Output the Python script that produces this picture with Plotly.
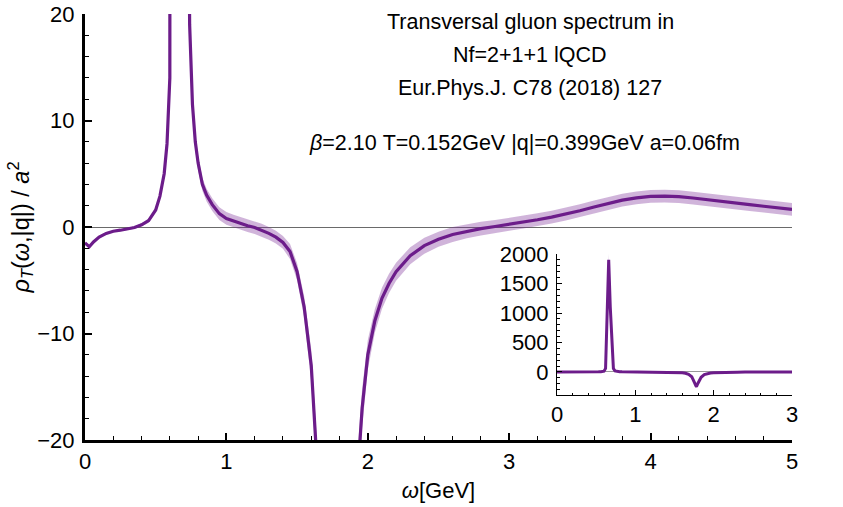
import plotly.graph_objects as go

# ---- data ----
omega = [0.00, 0.03, 0.06, 0.10, 0.15, 0.20, 0.25, 0.30, 0.35, 0.40, 0.45, 0.50, 0.53, 0.56, 0.58,
         0.60, 0.62, 0.64, 0.66, 0.68, 0.70, 0.72, 0.74, 0.76, 0.78, 0.80, 0.83, 0.86, 0.90, 0.95,
         1.00, 1.05, 1.10, 1.15, 1.20, 1.25, 1.30, 1.35, 1.40, 1.45, 1.50, 1.55, 1.60, 1.64, 1.68,
         1.72, 1.76, 1.78, 1.80, 1.84, 1.88, 1.92, 1.96, 2.00, 2.05, 2.10, 2.15, 2.20, 2.30, 2.40,
         2.50, 2.60, 2.70, 2.80, 2.90, 3.00, 3.10, 3.20, 3.30, 3.40, 3.50, 3.60, 3.70, 3.80, 3.90,
         4.00, 4.10, 4.20, 4.30, 4.40, 4.50, 4.60, 4.70, 4.80, 4.90, 5.00]
rho = [-1.5, -1.85, -1.4, -0.95, -0.6, -0.4, -0.3, -0.2, -0.05, 0.2, 0.6, 1.6, 2.9, 5.0, 7.8,
       14.0, 60.0, 1200.0, 1900.0, 1100.0, 550.0, 60.0, 19.0, 11.5, 8.0, 6.0, 4.0, 3.0, 2.1, 1.25,
       0.8, 0.55, 0.35, 0.12, -0.05, -0.3, -0.6, -0.95, -1.45, -2.3, -4.2, -7.5, -13.0, -22.0, -40.0,
       -80.0, -180.0, -250.0, -190.0, -90.0, -45.0, -25.0, -17.0, -12.0, -8.8, -6.7, -5.3, -4.2, -2.7, -1.75,
       -1.15, -0.7, -0.4, -0.15, 0.05, 0.25, 0.45, 0.68, 0.93, 1.22, 1.53, 1.88, 2.22, 2.52, 2.74,
       2.88, 2.9, 2.85, 2.72, 2.55, 2.4, 2.25, 2.1, 1.95, 1.8, 1.65]
err = [0.15, 0.15, 0.12, 0.1, 0.1, 0.1, 0.1, 0.1, 0.12, 0.15, 0.2, 0.2, 0.25, 0.3, 0.5,
       1.0, 5.0, 60.0, 100.0, 80.0, 40.0, 5.0, 1.5, 1.0, 0.8, 0.7, 0.6, 0.6, 0.6, 0.6,
       0.6, 0.6, 0.6, 0.6, 0.6, 0.6, 0.6, 0.6, 0.6, 0.7, 0.8, 1.0, 1.5, 2.0, 4.0,
       8.0, 15.0, 20.0, 15.0, 8.0, 4.0, 2.5, 1.8, 1.4, 1.1, 1.0, 0.9, 0.85, 0.8, 0.75,
       0.7, 0.7, 0.65, 0.65, 0.6, 0.6, 0.6, 0.6, 0.6, 0.6, 0.6, 0.6, 0.6, 0.6, 0.6,
       0.6, 0.6, 0.6, 0.6, 0.6, 0.6, 0.6, 0.6, 0.6, 0.6, 0.6]

main_xticks = [0, 1, 2, 3, 4, 5]
main_yticks = [-20, -10, 0, 10, 20]
main_yticktext = ["−20", "−10", "0", "10", "20"]
inset_xticks = [0, 1, 2, 3]
inset_yticks = [0, 500, 1000, 1500, 2000]

title_lines = ["Transversal gluon spectrum in", "Nf=2+1+1 lQCD", "Eur.Phys.J. C78 (2018) 127"]
param_line = "<i>β</i>=2.10 T=0.152GeV |q|=0.399GeV a=0.06fm"

lower = [r - e for r, e in zip(rho, err)]
upper = [r + e for r, e in zip(rho, err)]

LINE = "rgb(108,28,138)"
BAND = "rgba(120,40,150,0.35)"
FONT = "Liberation Sans"

fig = go.Figure()
for xa, ya, lw in [("x", "y", 3.2), ("x2", "y2", 3.0)]:
    fig.add_trace(go.Scatter(x=omega, y=lower, mode="lines", line=dict(width=0, color=BAND),
                             xaxis=xa, yaxis=ya, showlegend=False, hoverinfo="skip"))
    fig.add_trace(go.Scatter(x=omega, y=upper, mode="lines", line=dict(width=0, color=BAND),
                             fill="tonexty", fillcolor=BAND,
                             xaxis=xa, yaxis=ya, showlegend=False, hoverinfo="skip"))
    fig.add_trace(go.Scatter(x=omega, y=rho, mode="lines", line=dict(width=lw, color=LINE),
                             xaxis=xa, yaxis=ya, showlegend=False))

W, H = 843, 507
# plot area in window pixels (left, right, top, bottom)
PL, PR, PT, PB = 85, 792, 14, 440
L, R, T, B = PL, W - PR, PT, H - PB
pw, ph = PR - PL, PB - PT

def px(x):
    return (x - PL) / pw

def py(y):
    return (PB - y) / ph

tickfont = dict(family=FONT, size=22, color="black")

fig.update_layout(
    width=W, height=H,
    margin=dict(l=L, r=R, t=T, b=B, autoexpand=False),
    paper_bgcolor="white", plot_bgcolor="rgba(0,0,0,0)",
    font=dict(family=FONT, color="black"),
    xaxis=dict(domain=[0, 1], range=[0, 5], tickvals=main_xticks, showgrid=False, zeroline=False,
               automargin=False, ticklabeloverflow="allow",
               showline=True, linewidth=3, linecolor="black", ticks="inside", ticklen=7, tickwidth=1.5,
               tickcolor="black", tickfont=tickfont, ticklabelstandoff=0,
               minor=dict(dtick=0.2, ticks="inside", ticklen=4, tickwidth=1, tickcolor="black"),
               title=dict(text="<i>ω</i>[GeV]", font=dict(family=FONT, size=22), standoff=10)),
    yaxis=dict(domain=[0, 1], range=[-20, 20], tickvals=main_yticks, ticktext=main_yticktext,
               showgrid=False, automargin=False, ticklabeloverflow="allow",
               zeroline=True, zerolinecolor="#6a6a6a", zerolinewidth=1,
               showline=True, linewidth=3, linecolor="black", ticks="inside", ticklen=7, tickwidth=1.5,
               tickcolor="black", tickfont=tickfont, ticklabelstandoff=3,
               minor=dict(dtick=2, ticks="inside", ticklen=4, tickwidth=1, tickcolor="black"),
               title=dict(text="<i>ρ</i><sub><i>T</i></sub>(<i>ω</i>,|q|) / <i>a</i><sup>2</sup>",
                          font=dict(family=FONT, size=23.5), standoff=2)),
    xaxis2=dict(domain=[px(557), px(792)], anchor="y2", range=[0, 3], tickvals=inset_xticks,
                showgrid=False, zeroline=False, showline=True, linewidth=1, linecolor="black",
                automargin=False, ticklabelstandoff=0, ticklabeloverflow="allow",
                ticks="inside", ticklen=5, tickwidth=1, tickcolor="black", tickfont=tickfont,
                minor=dict(dtick=0.2, ticks="inside", ticklen=2.5, tickwidth=1, tickcolor="black")),
    yaxis2=dict(domain=[py(395), py(254)], anchor="x2", range=[-390, 2000], tickvals=inset_yticks,
                showgrid=False, zeroline=True, zerolinecolor="#999999", zerolinewidth=1,
                automargin=False, ticklabeloverflow="allow",
                showline=True, linewidth=1, linecolor="black", ticklabelstandoff=3,
                ticks="inside", ticklen=5, tickwidth=1, tickcolor="black", tickfont=tickfont,
                minor=dict(dtick=100, ticks="inside", ticklen=2.5, tickwidth=1, tickcolor="black")),
)

anns = []
for txt, yy in zip(title_lines, [22, 55, 88]):
    anns.append(dict(text=txt, x=px(530), y=py(yy), xref="paper", yref="paper",
                     xanchor="center", yanchor="middle", showarrow=False,
                     font=dict(family=FONT, size=21.5, color="black")))
anns.append(dict(text=param_line, x=px(524), y=py(143), xref="paper", yref="paper",
                 xanchor="center", yanchor="middle", showarrow=False,
                 font=dict(family=FONT, size=21.5, color="black")))
fig.update_layout(annotations=anns)

# remove the browser's default 8px body margin so the figure fills the window exactly
fig.write_html("out.html", config={"displayModeBar": False},
               post_script="document.body.style.margin='0';document.body.style.overflow='hidden';")
